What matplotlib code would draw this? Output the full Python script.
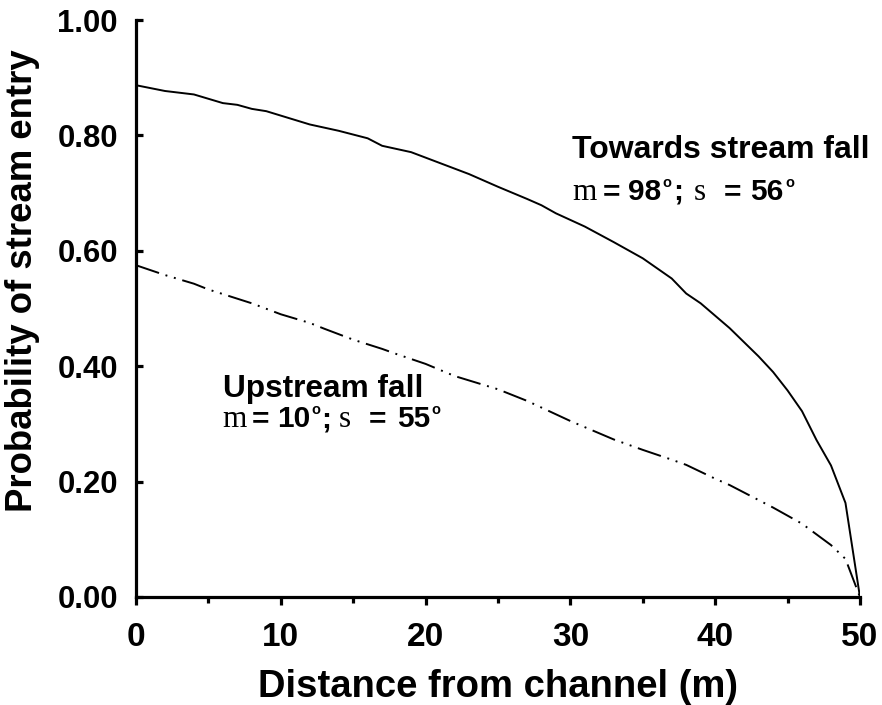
import matplotlib
matplotlib.use("Agg")
import matplotlib.pyplot as plt
from matplotlib.ticker import MultipleLocator, FormatStrFormatter

plt.rcParams['font.family'] = ['Liberation Sans', 'DejaVu Sans']

# Towards stream fall
towards_x = [0, 2, 4, 6, 7, 8, 9, 12, 14, 16, 17, 19, 21, 23, 25, 27, 28, 29, 31,
             33, 35, 37, 38, 39, 41, 43, 44, 45, 46, 47, 48, 49, 50]
towards_y = [0.887, 0.877, 0.871, 0.856, 0.853, 0.846, 0.842, 0.819, 0.808, 0.795,
             0.782, 0.771, 0.752, 0.733, 0.711, 0.690, 0.679, 0.665, 0.642,
             0.615, 0.587, 0.552, 0.526, 0.509, 0.466, 0.417, 0.390, 0.358,
             0.322, 0.272, 0.228, 0.163, 0.0]

# Upstream fall
upstream_x = [0, 2, 4, 5, 7, 8, 10, 12, 13, 15, 17, 18, 20, 22, 25, 27, 30, 33, 35,
              37, 38, 40, 41, 43, 44, 46, 48, 49, 50]
upstream_y = [0.575, 0.558, 0.543, 0.533, 0.517, 0.509, 0.490, 0.475, 0.465, 0.446,
              0.430, 0.421, 0.404, 0.383, 0.360, 0.340, 0.305, 0.273, 0.255,
              0.238, 0.229, 0.205, 0.194, 0.168, 0.155, 0.127, 0.090, 0.066, 0.0]

x_ticks = [0, 10, 20, 30, 40, 50]
y_ticks = [0.0, 0.2, 0.4, 0.6, 0.8, 1.0]

W, H = 882, 705
fig = plt.figure(figsize=(W / 100, H / 100), dpi=100)
ax = fig.add_axes([0.1542, 0.1532, 0.8208, 0.8184])

ax.plot(towards_x, towards_y, color='black', lw=1.4)
ax.plot(upstream_x, upstream_y, color='black', lw=1.4,
        linestyle=(0, (12.5, 3.5, 1, 3.5, 1, 3.5)))

ax.set_xlim(0, 50)
ax.set_ylim(0, 1.0)
ax.set_xticks(x_ticks)
ax.set_yticks(y_ticks)
ax.xaxis.set_minor_locator(MultipleLocator(5))
ax.yaxis.set_major_formatter(FormatStrFormatter('%.2f'))

for s in ['top', 'right']:
    ax.spines[s].set_visible(False)
for s in ['left', 'bottom']:
    ax.spines[s].set_linewidth(2.3)

ax.tick_params(axis='x', which='major', direction='out', length=6, width=2.3,
               pad=12, labelsize=24)
ax.tick_params(axis='x', which='minor', direction='out', length=4, width=2.3)
ax.tick_params(axis='y', which='major', direction='in', length=5, width=2.3,
               pad=13, labelsize=22.3)
for lab in ax.get_xticklabels() + ax.get_yticklabels():
    lab.set_fontweight('bold')

ax.set_xlabel('Distance from channel (m)', fontsize=27.5, fontweight='bold')
ax.xaxis.set_label_coords(0.5, -0.124)
ax.set_ylabel('Probability of stream entry', fontsize=26.3, fontweight='bold')
ax.yaxis.set_label_coords(-0.132, 0.549)


def px_text(x, y, s, **kw):
    fig.text(x / W, 1 - y / H, s, ha='left', va='baseline', **kw)


def stat_line(x_pieces, baseline, labels):
    mu, sig = labels
    pieces = [('m', 'serif'), ('=', 'bold'), (mu, 'bold'), ('o', 'sup'),
              (';', 'bold'), ('s', 'serif'), ('=', 'bold'), (sig, 'bold'), ('o', 'sup')]
    for (txt, kind), xp in zip(pieces, x_pieces):
        if kind == 'serif':
            px_text(xp, baseline, txt, family='Liberation Serif', fontsize=22.5)
        elif kind == 'sup':
            px_text(xp, baseline - 13, txt, fontsize=10.5, fontweight='bold')
        else:
            px_text(xp, baseline, txt, fontsize=21.5, fontweight='bold')


px_text(572, 158, 'Towards stream fall', fontsize=23, fontweight='bold')
stat_line([572, 603, 628, 662, 673, 694, 724, 750, 785], 200, ('98', '56'))

px_text(223, 397, 'Upstream fall', fontsize=22.8, fontweight='bold')
stat_line([222, 252, 277, 311, 321, 339, 369, 397, 431], 427, ('10', '55'))

fig.savefig('out.png', dpi=100)
